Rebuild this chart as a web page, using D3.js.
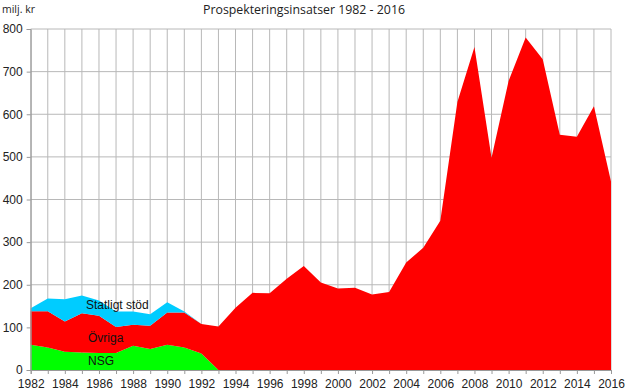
<!DOCTYPE html>
<html><head><meta charset="utf-8">
<script src="https://cdn.jsdelivr.net/npm/d3@7"></script>
<style>body{margin:0;background:#fff}svg{display:block}</style>
</head><body>
<svg id="c" width="627" height="391"></svg>
<script>
const years = d3.range(1982, 2017);
const nsg = [59,53,43,41,40,40,57,49,59,53,39,0, 0,0,0,0,0,0,0,0,0,0,0,0,0,0,0,0,0,0,0,0,0,0,0];
const ovriga = [79,85,71,92,87,61,49,55,76,82,69,102, 146,181,180,214,244,205,191,193,177,183,252,287,350,629,758,498,678,780,729,552,547,619,442];
const statligt = [7,30,52,42,36,36,31,27,24,2,0,0, 0,0,0,0,0,0,0,0,0,0,0,0,0,0,0,0,0,0,0,0,0,0,0];
const seriesNames = ["NSG","Övriga","Statligt stöd"];
const colors = ["#00ff00","#ff0000","#00ccff"];
const yTicks = [0,100,200,300,400,500,600,700,800];
const xTickLabels = d3.range(1982, 2017, 2);

const svg = d3.select("#c");
const x = d3.scaleLinear().domain([1982,2016]).range([30.7,611]);
const y = d3.scaleLinear().domain([0,800]).range([370,29]);

const rows = years.map((yr,i)=>({year:yr, "NSG":nsg[i], "Övriga":ovriga[i], "Statligt stöd":statligt[i]}));
const stack = d3.stack().keys(seriesNames)(rows);

// grid
svg.append("g").selectAll("line.v").data(years).join("line")
  .attr("x1",d=>x(d)).attr("x2",d=>x(d)).attr("y1",y(800)).attr("y2",y(0))
  .attr("stroke","#b8b8b8").attr("stroke-width",1);
svg.append("g").selectAll("line.h").data(yTicks).join("line")
  .attr("x1",x(1982)).attr("x2",x(2016)).attr("y1",d=>y(d)).attr("y2",d=>y(d))
  .attr("stroke","#b8b8b8").attr("stroke-width",1);

// areas
const area = d3.area().x((d,i)=>x(years[i])).y0(d=>y(d[0])).y1(d=>y(d[1]));
svg.append("g").selectAll("path").data(stack).join("path")
  .attr("d",area).attr("fill",(d,i)=>colors[i]);

// axes
const xAxis = d3.axisBottom(x).tickValues(years).tickSize(4).tickFormat(d=> xTickLabels.includes(d) ? d : "");
const gx = svg.append("g").attr("transform",`translate(0,${y(0)})`).call(xAxis);
gx.select(".domain").attr("stroke","#999");
gx.selectAll(".tick line").attr("stroke","#999");
gx.selectAll("text").attr("font-family","Liberation Sans, Arial, sans-serif").attr("font-size",12).attr("fill","#222").attr("dy","0.95em");

const yAxis = d3.axisLeft(y).tickValues(yTicks).tickSize(4).tickPadding(4);
const gy = svg.append("g").attr("transform",`translate(${x(1982)},0)`).call(yAxis);
gy.select(".domain").attr("stroke","#999");
gy.selectAll(".tick line").attr("stroke","#999");
gy.selectAll("text").attr("font-family","Liberation Sans, Arial, sans-serif").attr("font-size",12).attr("fill","#222");

// labels
const lab = (t,xx,yy)=>svg.append("text").text(t).attr("x",xx).attr("y",yy)
  .attr("font-family","Liberation Sans, Arial, sans-serif").attr("font-size",12).attr("fill","#111");
lab("Statligt stöd",86,309);
lab("Övriga",88,342);
lab("NSG",88,365);

svg.append("text").text("milj. kr").attr("x",2).attr("y",13)
  .attr("font-family","Open Sans, sans-serif").attr("font-size",10.5).attr("fill","#222");
svg.append("text").text("Prospekteringsinsatser 1982 - 2016").attr("x",304).attr("y",13.5)
  .attr("text-anchor","middle").attr("textLength",202).attr("lengthAdjust","spacingAndGlyphs")
  .attr("font-family","Open Sans, sans-serif").attr("font-size",13).attr("fill","#222");
</script>
</body></html>
